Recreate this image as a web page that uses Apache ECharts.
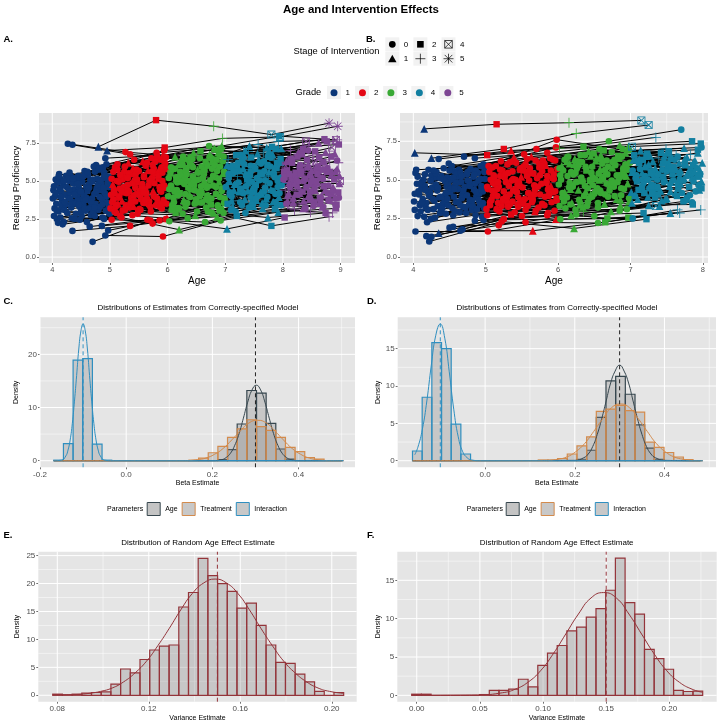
<!DOCTYPE html>
<html><head><meta charset="utf-8">
<style>html,body{margin:0;padding:0;background:#fff}#c{width:720px;height:724px}</style>
<script src="https://cdn.jsdelivr.net/npm/echarts@6/dist/echarts.min.js"></script>
</head><body><div id="c"></div>
<script>
// rows: first-wave age, reading score at each wave, wave at which the intervention starts (0 = never)
const trajA=[
[4.27,7.45,6.9,6.6,6.7,6.9,5],[4.35,7.38,6.75,6.4,7.0,7.1,4],[4.80,7.25,9.0,8.6,8.05,8.8,1],[4.70,1.0,2.4,3.0,3.4,3.3,0],
[4.92,1.42,1.35,2.4,2.95,3.2,4],[4.35,1.72,2.05,2.55,2.9,3.2,5],[4.20,2.3,2.6,1.8,2.7,3.1,3],[4.65,2.0,2.45,2.3,3.2,3.6,4],
[4.97,1.75,2.5,2.9,3.4,3.9,0],[4.03,2.7,2.45,2.35,1.85,2.6,4],[4.80,3.1,3.4,2.9,2.05,2.65,3],[4.95,7.0,7.2,7.8,7.9,8.6,1],
[4.92,6.5,6.7,7.1,7.6,7.7,2],[4.94,6.1,7.0,7.3,7.95,7.7,3],[4.88,5.9,6.4,6.9,7.1,7.6,3],[4.76,6.05,5.8,6.5,7.0,7.6,4],
[4.72,5.95,6.5,7.3,7.2,7.75,4],[4.90,5.55,5.9,6.7,6.2,6.8,5],[4.02,4.4,4.1,5.2,4.7,5.6,4],[4.01,3.85,3.2,4.0,4.6,5.1,0],
[4.06,5.1,5.6,5.9,5.2,6.3,5],[4.04,3.2,3.6,4.6,3.5,4.4,3],[4.08,2.5,3.0,3.4,4.1,3.7,5],[4.09,4.9,5.9,4.6,5.9,4.9,3],
[4.07,3.5,4.4,3.1,5.0,5.7,4],[4.05,4.0,4.8,5.5,6.4,6.0,2],[4.10,2.25,3.3,3.9,3.1,4.2,5],[4.12,5.45,5.0,4.3,5.5,4.6,0],
[4.13,5.2,6.1,6.6,6.0,7.0,3],[4.15,4.3,3.9,5.0,4.4,5.3,4],[4.11,3.0,2.9,3.6,4.0,4.9,5],[4.17,3.7,4.5,4.9,5.6,5.1,0],
[4.14,2.6,3.5,2.9,3.7,3.4,2],[4.19,4.7,5.3,6.1,6.7,6.5,3],[4.16,3.35,4.0,4.4,4.8,6.2,4],[4.18,2.15,2.7,3.2,3.0,3.9,5],
[4.22,4.1,5.1,5.6,6.2,5.4,5],[4.24,5.35,4.6,5.2,4.3,4.1,4],[4.21,3.1,3.7,4.2,5.3,4.6,2],[4.26,2.9,3.1,2.85,3.6,4.7,5],
[4.28,3.9,3.4,3.75,4.5,3.5,3],[4.25,4.6,5.6,6.3,5.7,6.6,4],[4.29,5.0,5.25,4.8,6.5,5.9,0],[4.23,3.45,4.25,5.4,4.9,5.2,5],
[4.32,5.3,6.2,5.7,6.9,5.6,2],[4.34,2.55,3.25,3.55,3.8,4.3,4],[4.31,4.25,4.75,3.3,4.2,5.5,5],[4.37,3.6,3.9,4.65,5.4,6.1,3],
[4.36,4.85,5.45,5.0,4.65,5.0,0],[4.39,2.5,2.75,3.95,4.35,3.2,4],[4.33,3.25,4.3,5.85,6.1,7.1,5],[4.38,4.45,3.75,4.1,5.1,4.45,3],
[4.42,5.0,6.4,6.0,7.3,6.4,4],[4.44,3.95,4.55,5.3,3.9,4.0,5],[4.41,2.85,3.35,4.45,5.75,5.8,2],[4.47,3.3,4.9,3.5,4.25,5.35,0],
[4.45,5.35,5.55,6.85,6.55,7.3,3],[4.46,4.55,4.15,4.75,4.95,3.8,5],[4.49,3.75,3.05,3.8,3.35,4.8,4],[4.43,4.2,5.05,6.45,5.35,5.95,5],
[4.52,4.95,4.35,5.75,5.8,6.7,3],[4.54,3.4,3.8,5.1,3.75,3.6,4],[4.51,2.7,3.15,3.0,4.55,5.25,5],[4.57,5.55,6.3,6.95,7.4,6.3,2],
[4.55,4.05,4.65,4.25,5.2,4.55,0],[4.58,3.05,3.55,4.35,4.05,4.95,5],[4.59,4.6,5.35,5.95,6.3,5.75,4],[4.53,3.65,4.05,3.65,4.75,6.0,3],
[4.62,5.4,6.0,5.65,6.15,7.5,5],[4.64,3.2,3.85,4.85,3.55,3.9,4],[4.61,4.35,4.45,5.35,5.55,4.75,3],[4.67,2.75,3.45,3.25,4.3,4.05,5],
[4.66,5.05,5.7,6.25,6.85,5.5,2],[4.69,3.85,4.95,4.05,5.05,5.15,0],[4.63,4.75,4.2,5.45,4.15,6.55,4],[4.68,3.55,3.65,4.55,5.65,3.3,5],
[4.73,4.15,5.2,6.75,6.05,5.05,3],[4.74,5.6,6.05,5.05,6.6,6.9,5],[4.71,2.95,3.0,3.7,3.85,4.65,4],[4.77,4.5,4.85,5.8,4.85,5.85,0],
[4.75,3.5,4.35,3.45,5.3,6.15,2],[4.78,5.15,5.5,6.2,5.95,4.25,5],[4.79,3.15,3.95,4.7,4.45,3.75,4],[4.81,5.75,6.85,7.15,7.25,6.65,3],
[4.84,4.4,5.15,4.15,5.45,5.4,5],[4.83,3.3,3.6,5.25,3.65,4.15,4],[4.87,2.6,3.3,3.35,4.15,4.35,0],[4.85,4.8,5.75,6.4,6.35,7.2,2],
[4.86,3.8,4.6,5.65,5.25,4.5,5],[4.89,5.2,4.3,4.95,5.85,5.3,3],[4.82,5.85,6.6,7.05,6.75,5.6,4],[4.91,4.2,5.0,3.95,4.6,5.65,5],
[4.93,3.05,3.75,3.15,3.95,3.45,4],[4.96,5.05,6.15,5.5,6.45,6.2,3],[4.94,3.6,4.7,4.5,5.15,6.35,0],[4.98,4.6,5.8,5.6,4.7,4.85,5],
[4.99,2.85,2.55,3.85,4.85,5.0,2],[4.97,5.3,6.55,6.6,7.15,7.4,4],[4.90,2.5,3.2,3.05,3.45,3.95,5],[4.30,5.55,4.4,5.15,6.25,6.05,0],
[4.56,5.65,4.8,4.0,4.0,4.4,5],[4.48,2.45,2.85,2.75,3.55,2.95,3],[4.60,2.3,3.55,3.6,5.5,5.45,4],[4.40,5.2,5.85,6.55,6.95,7.6,2],
[4.50,3.0,4.1,5.05,4.35,3.85,5],[4.74,2.7,2.2,2.95,2.6,2.9,4],[4.86,2.05,2.4,2.65,3.15,2.9,3],[4.44,3.7,5.4,5.3,5.6,7.0,0],
[4.03,4.65,5.15,4.45,6.05,5.25,4],[4.08,3.05,4.2,5.75,4.25,4.05,5],[4.11,5.3,3.45,3.25,3.7,5.45,4],[4.15,3.95,4.95,5.25,5.65,6.45,0],
[4.18,4.95,5.4,4.05,4.75,3.6,5],[4.22,3.6,3.05,4.95,5.95,5.55,4],[4.26,5.15,5.95,6.05,4.45,4.95,0],[4.29,4.45,4.2,3.6,3.4,4.2,5],
[4.33,3.5,5.5,5.45,6.65,6.75,4],[4.36,5.15,3.55,4.55,5.35,3.7,5],[4.39,4.1,4.85,6.15,4.9,5.15,4],[4.41,3.5,4.05,4.8,3.25,4.6,0],
[4.44,4.8,3.65,5.9,6.0,6.1,5],[4.47,5.25,5.1,4.4,4.55,4.3,4],[4.50,4.3,5.65,3.7,5.95,5.7,5],[4.53,5.3,3.1,5.55,3.85,3.35,0],
[4.56,3.15,4.5,6.5,6.8,6.95,4],[4.59,3.9,5.25,4.2,5.05,4.9,5],[4.61,5.6,3.75,5.2,4.25,5.95,4],[4.64,4.55,6.2,5.7,5.45,3.55,5],
[4.67,3.65,4.7,3.8,6.3,5.2,0],[4.70,5.1,3.3,4.65,4.65,6.25,4],[4.73,3.25,5.6,6.6,3.95,4.4,5],[4.76,4.3,4.0,3.85,5.6,5.6,4],
[4.79,4.75,6.3,5.35,6.55,4.7,0],[4.82,3.95,3.85,6.05,4.35,3.75,5],[4.84,5.05,5.35,4.6,5.75,6.6,4],[4.87,3.45,4.4,3.4,3.6,4.6,5],
[4.89,4.55,3.45,5.15,6.15,5.1,4],[4.91,5.35,5.55,5.95,5.0,3.45,0],[4.94,4.0,6.3,4.35,4.2,5.8,5],[4.96,4.85,4.55,6.3,6.25,4.25,4],
[4.98,3.35,3.5,3.55,5.25,5.35,5],[4.06,4.2,3.8,4.7,5.45,3.5,0],[4.13,4.5,5.75,5.8,3.3,6.45,4],[4.20,5.0,4.35,3.2,6.0,4.85,5],
[4.31,3.85,5.2,4.15,5.85,5.6,4],[4.46,3.45,5.75,5.0,3.45,4.1,5],[4.58,3.75,4.25,4.65,6.4,5.0,4],[4.69,4.95,5.05,6.0,4.55,5.75,0]
];
const trajB=[
[4.15,8.3,8.6,8.7,8.85,1],[4.02,6.75,6.6,7.05,7.15,1],[4.25,6.4,7.0,8.0,8.55,1],[4.70,6.5,7.0,7.5,8.25,0],[4.98,5.8,7.6,6.9,7.1,0],
[4.97,6.0,7.1,7.15,7.35,3],[4.85,6.4,6.75,7.25,7.5,3],[4.35,6.35,6.9,7.15,7.75,2],[4.03,1.65,1.65,2.45,2.5,0],[4.22,1.0,2.3,1.85,2.45,3],
[4.18,1.35,2.05,2.7,2.85,3],[4.25,1.3,2.45,2.75,3.35,4],[4.35,1.55,2.75,2.95,3.3,1],[4.65,1.7,1.7,2.25,3.05,2],[4.97,2.4,2.45,2.55,3.05,2],
[4.55,1.95,2.25,2.2,2.85,4],[4.68,1.8,2.95,2.5,2.85,2],[4.50,1.9,2.65,2.65,3.8,4],[4.85,2.35,2.7,3.0,3.55,0],[4.02,3.05,2.7,3.3,3.5,4],
[4.04,5.65,5.9,5.0,6.3,4],[4.03,5.45,4.4,5.3,5.6,0],[4.05,4.75,5.5,5.9,6.6,3],[4.01,3.6,3.1,4.7,4.2,4],[4.08,4.05,3.7,3.6,5.3,0],
[4.06,2.65,3.35,3.85,4.0,4],[4.09,3.35,4.3,4.2,4.9,3],[4.07,4.25,5.0,5.6,5.1,0],[4.10,2.95,3.95,3.15,3.75,4],[4.12,4.85,4.1,6.2,6.1,3],
[4.13,3.75,4.7,5.25,5.7,0],[4.15,2.6,3.1,4.5,4.6,4],[4.11,4.4,5.3,4.0,4.35,3],[4.17,3.2,3.5,3.4,5.0,0],[4.14,5.0,5.9,6.5,6.9,4],
[4.19,2.25,2.95,3.5,4.15,3],[4.16,4.6,3.95,4.8,5.45,4],[4.18,3.5,4.55,5.5,4.8,0],[4.22,3.95,3.3,6.0,6.5,3],[4.24,2.45,3.65,3.05,3.9,4],
[4.21,5.65,6.2,5.35,5.85,4],[4.26,4.5,5.15,5.75,4.45,0],[4.28,3.1,4.85,4.35,5.55,3],[4.25,5.3,4.25,4.85,6.0,4],[4.29,3.65,3.8,3.7,4.7,0],
[4.23,4.15,5.6,6.35,6.7,3],[4.32,5.5,4.6,5.15,5.2,4],[4.34,3.3,3.45,3.25,3.85,3],[4.31,4.7,5.45,6.6,6.2,4],[4.37,2.85,3.6,4.6,5.0,0],
[4.36,3.85,4.95,3.95,4.5,4],[4.39,5.25,6.45,5.6,6.4,2],[4.33,4.3,4.05,6.15,5.4,4],[4.38,3.0,5.05,4.25,4.05,3],[4.42,5.75,6.1,6.85,6.75,3],
[4.44,4.0,3.4,4.9,5.65,0],[4.41,3.45,4.4,3.55,4.3,4],[4.47,5.15,5.65,5.85,6.55,4],[4.45,2.8,3.25,4.05,5.2,3],[4.46,4.55,4.8,5.45,4.85,0],
[4.49,6.05,5.2,6.7,7.0,2],[4.43,3.6,4.2,3.8,3.65,4],[4.52,5.0,5.85,6.25,5.9,3],[4.54,3.15,3.75,4.45,4.6,4],[4.51,4.2,4.5,5.05,6.05,0],
[4.57,5.55,6.35,7.0,6.45,4],[4.55,2.7,3.05,3.2,4.25,4],[4.58,4.65,5.35,5.7,5.35,3],[4.59,3.55,4.15,4.15,4.95,0],[4.53,5.9,6.65,6.45,6.85,3],
[4.62,4.4,3.85,5.2,5.75,4],[4.64,2.9,3.55,3.45,3.95,3],[4.61,5.2,5.75,6.05,6.3,0],[4.67,3.8,4.65,4.75,5.5,4],[4.66,4.85,5.4,5.55,4.4,3],
[4.69,3.25,3.0,3.9,4.75,4],[4.63,5.65,6.5,6.9,6.6,2],[4.68,4.05,4.35,5.35,5.05,0],[4.73,2.85,3.2,2.95,3.6,3],[4.74,5.35,6.05,6.8,7.05,4],
[4.71,4.55,5.1,4.3,4.15,0],[4.77,3.4,4.75,4.55,6.0,4],[4.75,4.95,4.05,5.8,5.95,3],[4.78,3.7,5.55,6.3,6.45,4],[4.79,5.7,6.25,5.95,5.25,0],
[4.81,3.05,3.35,3.75,4.55,3],[4.84,4.35,4.9,5.1,5.8,4],[4.83,5.2,5.95,6.55,6.65,2],[4.87,3.9,4.45,4.0,4.9,0],[4.85,4.75,5.25,5.3,5.15,4],
[4.86,2.7,2.85,3.35,3.4,3],[4.89,5.45,6.4,7.0,6.25,4],[4.82,3.3,3.9,4.85,4.0,0],[4.91,4.1,3.55,4.4,5.3,4],[4.93,5.9,6.3,6.75,6.95,3],
[4.96,3.5,4.25,5.65,5.6,4],[4.94,4.6,5.05,5.95,4.65,0],[4.98,3.15,3.8,3.6,4.45,3],[4.99,5.05,5.7,6.1,6.1,4],[4.95,2.6,3.0,3.1,4.35,4],
[4.90,4.95,4.6,5.5,5.45,2],[4.30,2.55,3.5,4.95,4.25,3],[4.56,3.9,5.5,5.4,6.35,0],[4.48,4.7,3.65,4.65,3.75,4],[4.60,5.4,4.95,6.4,5.65,3],
[4.40,3.15,2.9,3.3,3.3,4],[4.50,5.6,5.6,4.1,5.55,0],[4.74,4.0,5.8,4.95,5.1,4],[4.86,5.6,4.35,3.7,5.95,3],[4.44,4.9,4.7,5.0,6.15,4],
[4.20,4.25,5.25,4.55,5.25,0],[4.10,3.45,4.8,6.45,6.25,3],[4.65,3.35,4.0,5.65,4.85,4],[4.30,5.15,6.0,3.4,4.1,3],[4.58,2.95,3.3,4.3,5.65,0],
[4.02,4.1,4.55,5.75,5.5,4],[4.06,5.2,3.55,4.15,3.95,0],[4.12,3.55,5.15,3.85,6.35,4],[4.16,5.35,4.4,6.05,4.5,3],[4.20,3.05,5.65,4.6,5.9,4],
[4.24,4.95,3.75,5.45,5.0,0],[4.27,3.75,5.35,6.2,6.55,4],[4.31,5.4,3.25,3.65,4.6,3],[4.34,4.5,6.15,4.9,5.75,4],[4.38,3.9,4.3,5.85,5.35,0],
[4.41,5.05,5.0,4.45,4.3,4],[4.45,4.15,3.85,6.55,6.05,3],[4.48,3.35,5.75,5.15,5.0,4],[4.52,4.45,3.45,4.25,6.7,0],[4.55,5.15,6.0,3.5,4.85,4],
[4.59,4.8,4.15,6.6,5.85,3],[4.62,3.6,5.45,5.05,4.15,4],[4.65,5.45,3.7,4.05,6.5,0],[4.69,4.3,6.25,5.85,5.6,4],[4.72,3.2,4.55,4.7,4.95,3],
[4.75,5.5,5.3,6.15,6.35,4],[4.78,4.6,3.45,3.95,3.85,0],[4.81,3.65,6.05,5.3,5.65,4],[4.84,5.35,4.8,6.4,5.4,3],[4.87,4.2,3.95,4.45,6.15,4],
[4.90,3.7,5.6,5.75,4.25,0],[4.93,5.05,4.2,6.0,6.75,4],[4.96,4.25,6.25,4.75,5.35,3],[4.98,5.5,3.65,3.8,4.9,4],[4.92,3.4,5.1,5.2,5.75,0],
[4.09,4.75,5.8,6.3,5.15,4],[4.17,4.35,4.85,4.4,6.3,3],[4.28,5.6,3.9,5.95,5.45,4],[4.37,5.1,5.55,6.6,4.55,0],[4.47,3.75,4.6,3.9,6.25,4],
[4.57,4.4,5.25,5.0,5.7,3],[4.67,5.25,4.05,6.25,6.1,4],[4.77,4.9,5.9,4.8,3.7,0],[4.88,3.1,4.1,6.5,5.55,4],[4.94,4.35,5.35,5.25,5.2,3]
];
const gradeNames=['1','2','3','4','5'];
const gradeColors=['#0C3778','#E30613','#39A935','#127FA0','#7D4693'];

const binsC=[-0.168,0.0224];
const ageC=[0,0,0,0,0,0,0,0,0,0,0,0,0,0,0,0,0,0.2,2.1,6.9,13.2,12.7,7.0,2.2,0.3,0,0,0,0,0];
const treatC=[0,0,0,0,0,0,0,0,0,0,0,0,0,0,0.1,0.5,1.5,2.7,4.4,6.0,7.7,6.4,5.7,4.4,2.5,1.7,0.6,0.3,0,0];
const interC=[0.1,3.2,18.9,19.2,3.1,0.1,0,0,0,0,0,0,0,0,0,0,0,0,0,0,0,0,0,0,0,0,0,0,0,0];
const binsD=[-0.162,0.02158];
const ageD=[0,0,0,0,0,0,0,0,0,0,0,0,0,0,0,0,0,0.2,1.4,5.8,10.7,11.3,8.9,4.8,1.7,0.2,0,0,0,0];
const treatD=[0,0,0,0,0,0,0,0,0,0,0,0,0,0.1,0.1,0.3,0.9,2.0,3.2,6.6,6.9,7.4,6.7,6.5,2.5,1.8,1.1,0.5,0.15,0];
const interD=[1.3,8.5,15.8,15.0,4.9,0.9,0,0,0,0,0,0,0,0,0,0,0,0,0,0,0,0,0,0,0,0,0,0,0,0];
const binsE=[0.078,0.00424];
const histE=[0.2,0.1,0.2,0.4,0.5,0.6,2.0,4.7,4.0,6.4,8.1,8.8,9.0,15.8,18.4,24.5,21.4,20.0,18.6,15.6,16.5,12.5,9.0,5.9,5.7,3.8,2.4,0.7,0,0.5];
const binsF=[-0.004,0.00768];
const histF=[0.15,0.15,0,0,0,0,0,0.1,0.65,0.65,0.8,2.1,1.1,3.9,5.5,6.5,8.4,8.9,10.2,11.3,13.7,17.9,12.1,10.6,6.0,4.8,3.4,0.65,0.5,0.55];

const curveAgeC=[[-0.168,0],[0.2,0],[0.222,0.2],[0.232,0.6],[0.242,1.4],[0.252,2.9],[0.262,5.1],[0.272,8],[0.282,11],[0.292,13.3],[0.302,14.2],[0.312,13.3],[0.322,11],[0.332,8],[0.342,5.1],[0.352,2.9],[0.362,1.4],[0.372,0.6],[0.382,0.2],[0.402,0],[0.5,0]];
const curveTreatC=[[-0.168,0],[0.135,0],[0.165,0.2],[0.185,0.5],[0.205,1.2],[0.225,2.3],[0.245,3.9],[0.265,5.6],[0.285,7.1],[0.305,7.6],[0.325,7.1],[0.345,5.6],[0.365,3.9],[0.385,2.3],[0.405,1.2],[0.425,0.5],[0.445,0.2],[0.475,0],[0.5,0]];
const curveInterC=[[-0.168,0],[-0.15,0.1],[-0.14,0.9],[-0.135,2],[-0.13,3.9],[-0.125,7],[-0.12,11.2],[-0.115,16],[-0.11,21],[-0.105,24.4],[-0.1,25.7],[-0.095,24.4],[-0.09,21],[-0.085,16],[-0.08,11.2],[-0.075,7],[-0.07,3.9],[-0.065,2],[-0.06,0.9],[-0.05,0.1],[-0.03,0],[0.5,0]];
const curveAgeD=[[-0.162,0],[0.2,0.05],[0.22,0.4],[0.23,0.9],[0.24,1.9],[0.25,3.5],[0.26,5.6],[0.27,8],[0.28,10.4],[0.29,12],[0.3,12.8],[0.31,12],[0.32,10.4],[0.33,8],[0.34,5.6],[0.35,3.5],[0.36,1.9],[0.37,0.9],[0.38,0.4],[0.4,0.05],[0.48,0]];
const curveTreatD=[[-0.162,0],[0.13,0],[0.162,0.2],[0.182,0.5],[0.202,1.2],[0.222,2.3],[0.242,3.9],[0.262,5.6],[0.282,7.1],[0.302,7.6],[0.322,7.1],[0.342,5.6],[0.362,3.9],[0.382,2.3],[0.402,1.2],[0.422,0.5],[0.442,0.2],[0.47,0],[0.48,0]];
const curveInterD=[[-0.157,0.8],[-0.15,1.8],[-0.14,4.2],[-0.13,8],[-0.12,12.8],[-0.11,16.8],[-0.1,18.3],[-0.09,16.4],[-0.08,11.9],[-0.07,6.9],[-0.06,3.2],[-0.05,1.2],[-0.04,0.4],[-0.03,0.1],[-0.01,0],[0.48,0]];
const curveE=[[0.078,0.03],[0.089,0.15],[0.094,0.35],[0.099,0.7],[0.104,1.3],[0.109,2.4],[0.114,4],[0.119,6.1],[0.124,8.9],[0.129,12],[0.134,15.3],[0.139,18.2],[0.144,20.1],[0.149,20.8],[0.154,20.1],[0.159,18.2],[0.164,15.3],[0.169,12],[0.174,8.9],[0.179,6.1],[0.184,4],[0.189,2.4],[0.194,1.3],[0.199,0.7],[0.205,0.35]];
const curveF=[[-0.004,0],[0.048,0.05],[0.068,0.34],[0.078,0.8],[0.088,1.7],[0.098,3.2],[0.108,5.4],[0.118,8],[0.128,10.6],[0.138,12.7],[0.148,13.4],[0.158,12.7],[0.168,10.6],[0.178,8],[0.188,5.4],[0.198,3.2],[0.208,1.7],[0.218,0.8],[0.226,0.4]];

const ticksAx=[4,5,6,7,8,9], ticksBx=[4,5,6,7,8], ticksReadY=[0,2.5,5,7.5];
const minorAx=[4.5,5.5,6.5,7.5,8.5], minorBx=[4.5,5.5,6.5,7.5], minorReadY=[1.25,3.75,6.25,8.75];
const ticksCx=[-0.2,0,0.2,0.4], ticksCy=[0,10,20], minorCx=[-0.1,0.1,0.3,0.5], minorCy=[5,15,25];
const ticksDx=[0,0.2,0.4], ticksDy=[0,5,10,15], minorDx=[-0.1,0.1,0.3,0.5], minorDy=[2.5,7.5,12.5,17.5];
const ticksEx=[0.08,0.12,0.16,0.20], ticksEy=[0,5,10,15,20,25], minorEx=[0.10,0.14,0.18], minorEy=[2.5,7.5,12.5,17.5,22.5];
const ticksFx=[0,0.05,0.10,0.15,0.20], ticksFy=[0,5,10,15], minorFx=[0.025,0.075,0.125,0.175,0.225], minorFy=[2.5,7.5,12.5,17.5];

const FONT='"Liberation Sans", Arial, sans-serif';
const P={plus:'M4.6 0H5.4V4.6H10V5.4H5.4V10H4.6V5.4H0V4.6H4.6Z',
 box:'M0 0H10V10H0Z M1 1V9H9V1Z M1 1.8L1.8 1L9 8.2L8.2 9Z M8.2 1L9 1.8L1.8 9L1 8.2Z',
 star:'M4.6 0H5.4V10H4.6Z M0 4.6H10V5.4H0Z M1 1.6L1.6 1L9 8.4L8.4 9Z M8.4 1L9 1.6L1.6 9L1 8.4Z'};
const SYM=['circle','triangle','rect','path://'+P.plus,'path://'+P.box,'path://'+P.star];
const SIZE=[6.6,7.8,6.4,10,8,10];

const grids=[
 {left:39,top:113,width:316,height:150},{left:400,top:113,width:308,height:150},
 {left:40,top:317.3,width:315,height:150},{left:397.7,top:317.3,width:318.3,height:150},
 {left:38.3,top:551.7,width:318.4,height:150},{left:397.3,top:551.7,width:319.4,height:150}
].map(g=>Object.assign(g,{show:true,backgroundColor:'#E5E5E5',borderWidth:0,containLabel:false}));

function axis(idx,min,max,ticks,dec,name,gap,nameSize,labelSize){
 return {type:'value',gridIndex:idx,min,max,name,nameLocation:'middle',nameGap:gap,
  nameTextStyle:{fontSize:nameSize,color:'#000',fontFamily:FONT},
  axisLine:{show:false,onZero:false},axisTick:{show:true,length:2,lineStyle:{color:'#333',width:0.7},customValues:ticks},
  axisLabel:{show:true,fontSize:labelSize,color:'#4D4D4D',margin:3,fontFamily:FONT,customValues:ticks,formatter:v=>(+v).toFixed(dec)},
  splitLine:{show:false},minorSplitLine:{show:false}};
}
const xAxes=[
 axis(0,3.77,9.25,ticksAx,0,'Age',13,10,7.5),axis(1,3.816,8.07,ticksBx,0,'Age',13,10,7.5),
 axis(2,-0.2,0.531,ticksCx,1,'Beta Estimate',12.5,7,8),axis(3,-0.195,0.515,ticksDx,1,'Beta Estimate',12.5,7,8),
 axis(4,0.0717,0.2109,ticksEx,2,'Variance Estimate',12.5,7,8),axis(5,-0.0154,0.2375,ticksFx,2,'Variance Estimate',12.5,7,8)];
const yAxes=[
 axis(0,-0.39,9.47,ticksReadY,1,'Reading Proficiency',17,9.5,7.5),axis(1,-0.39,9.33,ticksReadY,1,'Reading Proficiency',17,9.5,7.5),
 axis(2,-1.24,26.96,ticksCy,0,'Density',20,7,8),axis(3,-0.88,19.2,ticksDy,0,'Density',14,7,8),
 axis(4,-1.15,25.7,ticksEy,0,'Density',18,7,8),axis(5,-0.83,18.73,ticksFy,0,'Density',16,7,8)];

const series=[];
function guides(i,xs,ys,width){
 const xa=xAxes[i],ya=yAxes[i],d=[];
 xs.forEach(x=>{d.push([x,ya.min],[x,ya.max],[null,null]);});
 ys.forEach(y=>{d.push([xa.min,y],[xa.max,y],[null,null]);});
 series.push({type:'line',name:'grid',xAxisIndex:i,yAxisIndex:i,data:d,symbol:'none',silent:true,z:1,
  connectNulls:false,lineStyle:{color:'#fff',width}});
}
guides(0,minorAx,minorReadY,0.5);guides(1,minorBx,minorReadY,0.5);guides(2,minorCx,minorCy,0.5);
guides(3,minorDx,minorDy,0.5);guides(4,minorEx,minorEy,0.5);guides(5,minorFx,minorFy,0.5);
guides(0,ticksAx,ticksReadY,1);guides(1,ticksBx,ticksReadY,1);guides(2,ticksCx,ticksCy,1);
guides(3,ticksDx,ticksDy,1);guides(4,ticksEx,ticksEy,1);guides(5,ticksFx,ticksFy,1);

function panelTraj(i,rows,waves){
 const d=[];
 rows.forEach(r=>{for(let w=0;w<waves;w++)d.push([r[0]+w,r[1+w]]);d.push([null,null]);});
 series.push({type:'line',name:'trajectories',xAxisIndex:i,yAxisIndex:i,data:d,symbol:'none',silent:true,z:2,
  connectNulls:false,lineStyle:{color:'#000',width:1}});
 for(let w=0;w<waves;w++){
  series.push({type:'scatter',name:gradeNames[w],xAxisIndex:i,yAxisIndex:i,z:3,silent:true,
   data:rows.map(r=>{const s=r[r.length-1];return [r[0]+w,r[1+w],s===0?0:Math.max(0,w+1-s+1)];}),
   symbol:v=>SYM[Math.min(v[2],5)],symbolSize:v=>SIZE[Math.min(v[2],5)],
   itemStyle:{color:gradeColors[w],opacity:1}});
 }
}
panelTraj(0,trajA,5);panelTraj(1,trajB,4);

function hist(i,name,bins,h,color){
 series.push({type:'custom',name,xAxisIndex:i,yAxisIndex:i,z:4,silent:true,
  data:h.map((v,k)=>[bins[0]+k*bins[1],bins[0]+(k+1)*bins[1],v]),encode:{x:[0,1],y:2},
  renderItem:(p,api)=>{const a=api.coord([api.value(0),0]),b=api.coord([api.value(1),api.value(2)]);
   return {type:'rect',shape:{x:a[0],y:b[1],width:b[0]-a[0],height:a[1]-b[1]},
    style:{fill:'rgba(128,128,128,0.3)',stroke:color,lineWidth:1.2}};}});
}
function curve(i,d,color){
 series.push({type:'line',name:'density',xAxisIndex:i,yAxisIndex:i,data:d,symbol:'none',smooth:0.5,silent:true,z:5,
  lineStyle:{color,width:1}});
}
function vline(i,x,color){
 series.push({type:'line',name:'true value',xAxisIndex:i,yAxisIndex:i,data:[[x,yAxes[i].min],[x,yAxes[i].max]],symbol:'none',silent:true,z:6,
  lineStyle:{color,width:1,type:[4,3]}});
}
const cAge='#37474F',cTreat='#D38B4D',cInter='#2F8FC0',cRed='#94343A';
hist(2,'Age',binsC,ageC,cAge);hist(2,'Treatment',binsC,treatC,cTreat);hist(2,'Interaction',binsC,interC,cInter);
curve(2,curveAgeC,cAge);curve(2,curveTreatC,cTreat);curve(2,curveInterC,cInter);vline(2,-0.1,cInter);vline(2,0.3,'#222');
hist(3,'Age',binsD,ageD,cAge);hist(3,'Treatment',binsD,treatD,cTreat);hist(3,'Interaction',binsD,interD,cInter);
curve(3,curveAgeD,cAge);curve(3,curveTreatD,cTreat);curve(3,curveInterD,cInter);vline(3,-0.1,cInter);vline(3,0.3,'#222');
hist(4,'Estimate',binsE,histE,cRed);curve(4,curveE,cRed);vline(4,0.15,cRed);
hist(5,'Estimate',binsF,histF,cRed);curve(5,curveF,cRed);vline(5,0.15,cRed);

function T(text,x,y,size,bold,align){return {text,left:x,top:y,padding:0,textAlign:align||'left',textVerticalAlign:'middle',
 textStyle:{fontSize:size,fontWeight:bold?'bold':'normal',color:'#000',fontFamily:FONT}};}
const titles=[T('Age and Intervention Effects',361,10,11.5,true,'center'),
 T('A.',3.5,39,9.5,true),T('B.',366,39,9.5,true),T('C.',3.5,301.7,9.5,true),T('D.',367,301.7,9.5,true),T('E.',3.5,535,9.5,true),T('F.',367,535,9.5,true),
 T('Distributions of Estimates from Correctly-specified Model',198,308,8,false,'center'),
 T('Distributions of Estimates from Correctly-specified Model',557,308,8,false,'center'),
 T('Distribution of Random Age Effect Estimate',198,542.3,8,false,'center'),
 T('Distribution of Random Age Effect Estimate',556.7,542.3,8,false,'center')];

function paramLegend(left){return {left,top:502,itemWidth:13,itemHeight:13,itemGap:4,padding:0,selectedMode:false,
 textStyle:{fontSize:7,color:'#000',fontFamily:FONT},
 data:[{name:'Age',icon:'rect',itemStyle:{color:'#C4C4C4',borderColor:cAge,borderWidth:1}},
  {name:'Treatment',icon:'rect',itemStyle:{color:'#C8C8C8',borderColor:cTreat,borderWidth:1}},
  {name:'Interaction',icon:'rect',itemStyle:{color:'#C8C8C8',borderColor:cInter,borderWidth:1}}]};}
const legends=[paramLegend(146.7),paramLegend(505.7),
 {left:330.5,top:88.8,itemWidth:7,itemHeight:7,itemGap:9,padding:0,selectedMode:false,
  textStyle:{fontSize:8,color:'#000',fontFamily:FONT,padding:[0,0,0,3]},
  data:gradeNames.map(n=>({name:n,icon:'circle'}))}];

const graphic=[];
function gtext(text,x,y,size,align){graphic.push({type:'text',x,y,z:20,style:{text,fontSize:size,fontFamily:FONT,fill:'#000',textAlign:align||'left',textVerticalAlign:'middle'}});}
function gkey(x,y,w,h){graphic.push({type:'rect',z:-1,shape:{x,y,width:w,height:h},style:{fill:'#F2F2F2'}});}
function gline(x1,y1,x2,y2){graphic.push({type:'line',z:20,shape:{x1,y1,x2,y2},style:{stroke:'#000',lineWidth:0.7}});}
function glyph(stage,cx,cy){
 if(stage===0)graphic.push({type:'circle',z:20,shape:{cx,cy,r:3.4},style:{fill:'#000'}});
 if(stage===1)graphic.push({type:'polygon',z:20,shape:{points:[[cx,cy-4],[cx+4.2,cy+3.5],[cx-4.2,cy+3.5]]},style:{fill:'#000'}});
 if(stage===2)graphic.push({type:'rect',z:20,shape:{x:cx-3.3,y:cy-3.3,width:6.6,height:6.6},style:{fill:'#000'}});
 if(stage===3||stage===5){gline(cx-5,cy,cx+5,cy);gline(cx,cy-5,cx,cy+5);}
 if(stage===4)graphic.push({type:'rect',z:20,shape:{x:cx-3.8,y:cy-3.8,width:7.6,height:7.6},style:{fill:'none',stroke:'#000',lineWidth:0.7}});
 if(stage===4||stage===5){gline(cx-3.8,cy-3.8,cx+3.8,cy+3.8);gline(cx-3.8,cy+3.8,cx+3.8,cy-3.8);}
}
const stageKeys=[[0,385.3,37.3],[1,385.3,51.7],[2,413.4,37.3],[3,413.4,51.7],[4,441.5,37.3],[5,441.5,51.7]];
stageKeys.forEach(k=>{
 gkey(k[1],k[2],14,14);
 glyph(k[0],k[1]+7,k[2]+7);
 gtext(String(k[0]),k[1]+20.7,k[2]+7,8,'center');
});
gtext('Stage of Intervention',293.5,51.7,9.3);
gtext('Grade',295.4,92.3,9.3);
[0,1,2,3,4].forEach(i=>gkey(327+i*28.1,86,14,13));
gtext('Parameters',107,509,7);gtext('Parameters',466.7,509,7);

const chart=echarts.init(document.getElementById('c'),null,{renderer:'canvas',width:720,height:724});
chart.setOption({animation:false,backgroundColor:'#fff',textStyle:{fontFamily:FONT},title:titles,legend:legends,grid:grids,xAxis:xAxes,yAxis:yAxes,series,graphic,tooltip:{show:false}});
</script></body></html>
